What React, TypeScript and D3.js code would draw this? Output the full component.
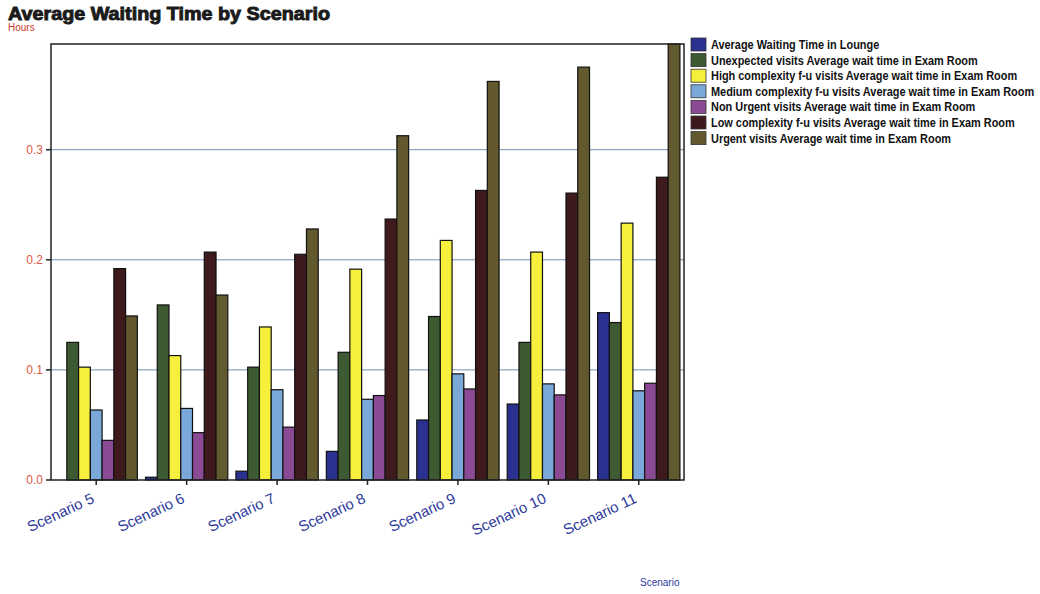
import React from "react";
import * as d3 from "d3";

const scenarios = ["Scenario 5", "Scenario 6", "Scenario 7", "Scenario 8", "Scenario 9", "Scenario 10", "Scenario 11"];

const seriesNames = [
  "Average Waiting Time in Lounge",
  "Unexpected visits Average wait time in Exam Room",
  "High complexity f-u visits Average wait time in Exam Room",
  "Medium complexity f-u visits Average wait time in Exam Room",
  "Non Urgent visits Average wait time in Exam Room",
  "Low complexity f-u visits Average wait time in Exam Room",
  "Urgent visits Average wait time in Exam Room",
];

const seriesColors = ["#2b3191", "#3d5a32", "#f6f03c", "#7aa8d8", "#8b4a94", "#3e1a1c", "#625a2e"];

const lounge = [0, 0.0025, 0.008, 0.026, 0.0545, 0.069, 0.152];
const unexpected = [0.125, 0.159, 0.1025, 0.116, 0.1485, 0.125, 0.143];
const highComplexity = [0.1025, 0.113, 0.139, 0.1915, 0.2176, 0.207, 0.2333];
const mediumComplexity = [0.0636, 0.065, 0.082, 0.0733, 0.0964, 0.0873, 0.081];
const nonUrgent = [0.036, 0.043, 0.048, 0.0767, 0.0827, 0.0773, 0.0879];
const lowComplexity = [0.192, 0.207, 0.205, 0.237, 0.263, 0.2606, 0.275];
const urgent = [0.149, 0.168, 0.228, 0.3127, 0.362, 0.375, 0.396];

const seriesValues = [lounge, unexpected, highComplexity, mediumComplexity, nonUrgent, lowComplexity, urgent];

const yTicks = [0, 0.1, 0.2, 0.3];

export default function App() {
  const width = 1040;
  const height = 594;
  const left = 51;
  const right = 684;
  const top = 44;
  const bottom = 480;

  const yMax = d3.max(seriesValues.flat()) as number;
  const x0 = d3.scaleBand<string>().domain(scenarios).range([left, right]).padding(0);
  const x1 = d3
    .scaleBand<number>()
    .domain(d3.range(seriesNames.length))
    .range([x0.bandwidth() * 0.045, x0.bandwidth() * 0.955])
    .padding(0);
  const y = d3.scaleLinear().domain([0, yMax]).range([bottom, top]);

  return (
    <svg width={width} height={height} style={{ position: "absolute", left: 0, top: 0, background: "#fff" }}>
      <text
        x={8}
        y={20}
        fontFamily="Liberation Sans, Arial, sans-serif"
        fontWeight="bold"
        fontSize={18}
        fill="#1a1a1a"
        stroke="#1a1a1a"
        strokeWidth={0.9}
        textLength={322}
        lengthAdjust="spacingAndGlyphs"
      >
        Average Waiting Time by Scenario
      </text>
      <text x={8} y={31} fontFamily="Liberation Sans, Arial, sans-serif" fontSize={10} fill="#c83a2a">
        Hours
      </text>

      {/* grid lines */}
      {yTicks.filter((t) => t > 0).map((t) => (
        <line key={t} x1={left} x2={right} y1={y(t)} y2={y(t)} stroke="#6f92b4" strokeWidth={1} />
      ))}

      {/* bars */}
      {scenarios.map((s, i) => (
        <g key={s} transform={`translate(${x0(s)},0)`}>
          {seriesValues.map((vals, j) => {
            const v = vals[i];
            if (v <= 0) return null;
            return (
              <rect
                key={j}
                x={x1(j)}
                y={y(v)}
                width={x1.bandwidth()}
                height={bottom - y(v)}
                fill={seriesColors[j]}
                stroke="#111"
                strokeWidth={1.2}
              />
            );
          })}
        </g>
      ))}

      {/* frame */}
      <rect x={left} y={top} width={right - left} height={bottom - top} fill="none" stroke="#222" strokeWidth={1.5} />

      {/* y axis ticks */}
      {yTicks.map((t) => (
        <g key={t}>
          <line x1={left - 5} x2={left} y1={y(t)} y2={y(t)} stroke="#222" strokeWidth={1.5} />
          <text x={left - 8} y={y(t) + 4} textAnchor="end" fontFamily="Liberation Sans, Arial, sans-serif" fontSize={12} fill="#dc5a48">
            {d3.format(".1f")(t)}
          </text>
        </g>
      ))}

      {/* x axis ticks and labels */}
      {scenarios.map((s) => {
        const cx = (x0(s) as number) + x0.bandwidth() / 2;
        return (
          <g key={s}>
            <line x1={cx} x2={cx} y1={bottom} y2={bottom + 5} stroke="#222" strokeWidth={1.5} />
            <text
              transform={`translate(${cx - 1},${bottom + 22}) rotate(-25)`}
              textAnchor="end"
              fontFamily="Liberation Sans, Arial, sans-serif"
              fontSize={15}
              fill="#2d3a9c"
            >
              {s}
            </text>
          </g>
        );
      })}
      <text x={640} y={586} fontFamily="Liberation Sans, Arial, sans-serif" fontSize={10} fill="#2d3a9c">
        Scenario
      </text>

      {/* legend */}
      {seriesNames.map((n, j) => (
        <g key={n} transform={`translate(691,${38 + j * 15.6})`}>
          <rect x={0} y={0} width={15} height={13} fill={seriesColors[j]} stroke="#333" strokeWidth={0.8} />
          <g transform="translate(20,11) scale(0.91,1)">
            <text x={0} y={0} fontFamily="Liberation Sans, Arial, sans-serif" fontWeight="bold" fontSize={12} fill="#111">
              {n}
            </text>
          </g>
        </g>
      ))}
    </svg>
  );
}
